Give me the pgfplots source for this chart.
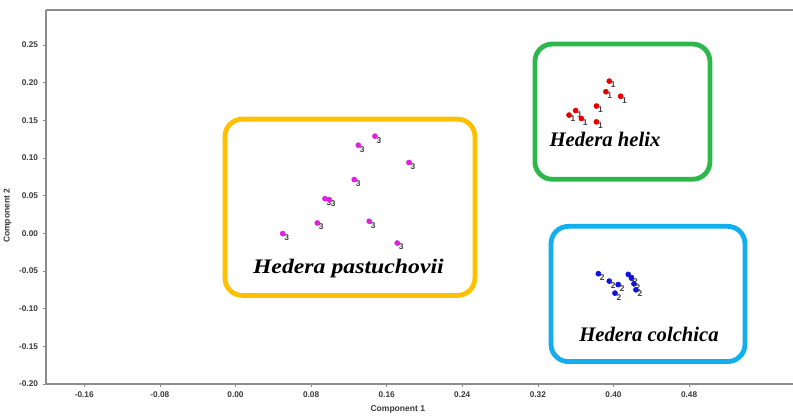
\documentclass[border=0pt]{standalone}
\usepackage{pgfplots}
\pgfplotsset{compat=1.18}
\usepackage{fontspec}
\setmainfont{Liberation Sans}
\newfontfamily\serifbi{Liberation Serif}
\definecolor{axgray}{HTML}{8C8C8C}
\definecolor{tickc}{HTML}{3A3A3A}
\definecolor{bxgreen}{HTML}{2DB84B}
\definecolor{bxyellow}{HTML}{FFC000}
\definecolor{bxblue}{HTML}{12AEEF}
\definecolor{ptred}{HTML}{E80000}
\definecolor{ptblue}{HTML}{1010E0}
\definecolor{ptmag}{HTML}{E020E0}
\begin{document}
\begin{tikzpicture}
\begin{axis}[
  name=ax,
  scale only axis,
  width=560.25pt, height=280.5pt,
  xmin=-0.2005, xmax=0.59, ymin=-0.2, ymax=0.2965,
  axis x line*=bottom, axis y line*=left,
  axis line style={axgray, line width=1.1pt, -},
  clip=false,
  xtick={-0.16,-0.08,0,0.08,0.16,0.24,0.32,0.40,0.48},
  ytick={-0.20,-0.15,-0.10,-0.05,0,0.05,0.10,0.15,0.20,0.25},
  tick align=outside, major tick length=2.5pt,
  tick style={axgray, line width=0.5pt},
  ticklabel style={font=\fontsize{6.2}{6.2}\selectfont\bfseries, text=tickc},
  /pgf/number format/.cd, fixed, fixed zerofill, precision=2, assume math mode=true,
  /pgfplots/.cd,
  xlabel={Component 1}, ylabel={Component 2},
  every axis x label/.style={at={(ticklabel cs:0.471)}, anchor=north, yshift=1.5pt, font=\fontsize{6.4}{7}\selectfont\bfseries, text=tickc},
  every axis y label/.style={at={(ticklabel cs:0.45)}, anchor=south, rotate=90, yshift=-1pt, font=\fontsize{6.4}{7}\selectfont\bfseries, text=tickc},
  nodes near coords style={font=\fontsize{6.3}{6.3}\selectfont\bfseries, text=black!75, anchor=north west, inner sep=0pt, xshift=1.0pt, yshift=-0.6pt},
]
\draw[axgray, line width=1.1pt] (rel axis cs:0,1) -- (rel axis cs:1,1);
% boxes
\draw[bxgreen, line width=3.6pt, rounded corners=13pt] (axis cs:0.3169,0.2513) rectangle (axis cs:0.5021,0.0718);
\draw[bxyellow, line width=3.6pt, rounded corners=13pt] (axis cs:-0.0111,0.1516) rectangle (axis cs:0.2534,-0.0824);
\draw[bxblue, line width=3.6pt, rounded corners=13pt] (axis cs:0.3339,0.0093) rectangle (axis cs:0.5392,-0.1702);
% Hedera helix
\addplot[only marks, mark=*, mark size=1.9pt, draw=ptred, fill=ptred, nodes near coords={1}] coordinates {
(0.3956,0.2021) (0.392,0.188) (0.4076,0.182) (0.382,0.169) (0.360,0.163)
(0.353,0.157) (0.366,0.1525) (0.382,0.148)
};
% Hedera colchica
\addplot[only marks, mark=*, mark size=1.9pt, draw=ptblue, fill=ptblue, nodes near coords={2}] coordinates {
(0.384,-0.0536) (0.3956,-0.0634) (0.405,-0.068) (0.4016,-0.0794)
(0.4157,-0.0545) (0.419,-0.059) (0.4217,-0.067) (0.4238,-0.0749)
};
% Hedera pastuchovii
\addplot[only marks, mark=*, mark size=1.9pt, draw=ptmag, fill=ptmag, nodes near coords={3}] coordinates {
(0.1476,0.129) (0.130,0.117) (0.1836,0.094) (0.1257,0.0714) (0.0947,0.046)
(0.0993,0.0448) (0.0866,0.0137) (0.1416,0.016) (0.050,-0.0004) (0.1712,-0.0129)
};
\node[font=\serifbi\fontsize{15.5}{16}\selectfont\bfseries\itshape, inner sep=0pt] at (axis cs:0.391,0.1245) {Hedera helix};
\node[font=\serifbi\fontsize{15.5}{16}\selectfont\bfseries\itshape, xscale=1.15] at (axis cs:0.1195,-0.0465) {Hedera pastuchovii};
\node[font=\serifbi\fontsize{15.5}{16}\selectfont\bfseries\itshape] at (axis cs:0.4376,-0.1343) {Hedera colchica};
\end{axis}
\pgfresetboundingbox
\path ([shift={(-34.5pt,-23.25pt)}]ax.south west) rectangle ([shift={(0pt,7.5pt)}]ax.north east);
\end{tikzpicture}
\end{document}
